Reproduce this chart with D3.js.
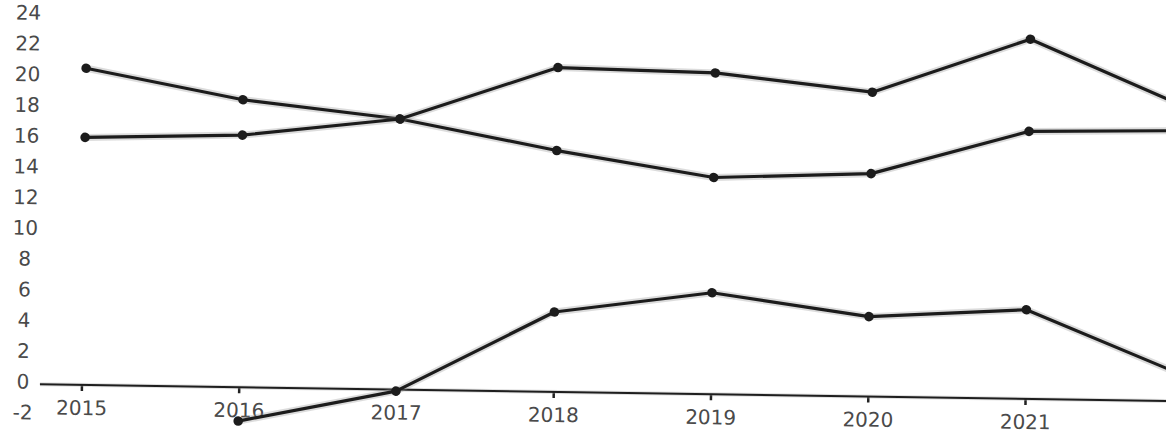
<!DOCTYPE html>
<html>
<head>
<meta charset="utf-8">
<script src="https://cdn.jsdelivr.net/npm/d3@7/dist/d3.min.js"></script>
<style>
  html, body { margin: 0; padding: 0; background: #fff; }
  svg { display: block; overflow: hidden; }
  text { font-family: "DejaVu Sans", sans-serif; }
</style>
</head>
<body>
<svg id="chart" width="1166" height="440"></svg>
<script>
// Categories and series
const years = [2015, 2016, 2017, 2018, 2019, 2020, 2021, 2022];
const seriesA = [20.6, 18.7, 17.6, 15.7, 14.1, 14.5, 17.4, 17.6];
const seriesB = [16.1, 16.4, 17.6, 21.1, 20.9, 19.8, 23.4, 19.1];
const seriesC = [null, -2.2, -0.1, 5.2, 6.6, 5.2, 5.8, 1.7];

// Axis ticks
const yTicks = [-2, 0, 2, 4, 6, 8, 10, 12, 14, 16, 18, 20, 22, 24];
const xTickYears = [2015, 2016, 2017, 2018, 2019, 2020, 2021];

const svg = d3.select("#chart");

// whole drawing sits with a slight tilt
const g = svg.append("g").attr("transform", "rotate(0.85, 20, 381)");

const x = d3.scalePoint().domain(years).range([81.5, 1182.5]);
const y = d3.scaleLinear().domain([-2, 24]).range([414.75, 15]);

// y tick labels (no axis line)
const yAxis = g.append("g")
  .attr("transform", "translate(23,0)")
  .call(d3.axisLeft(y).tickValues(yTicks).tickSize(0).tickFormat(d => String(d)));
yAxis.select(".domain").remove();
yAxis.selectAll("text")
  .attr("x", 0)
  .attr("y", -3)
  .attr("dy", "0.35em")
  .attr("text-anchor", "middle")
  .attr("fill", "#4a4a4a")
  .style("font-size", "20px")
  .style("font-family", "'DejaVu Sans', sans-serif");

// x axis along zero
const xAxis = g.append("g")
  .attr("transform", `translate(0,${y(0)})`)
  .call(d3.axisBottom(x).tickValues(xTickYears).tickSize(6).tickFormat(d => String(d)));
xAxis.select(".domain").remove();
xAxis.selectAll(".tick line").attr("stroke", "#222").attr("stroke-width", 2.5);
xAxis.selectAll("text")
  .attr("y", 23)
  .attr("dy", "0.35em")
  .attr("fill", "#4a4a4a")
  .style("font-size", "20px")
  .style("font-family", "'DejaVu Sans', sans-serif");

g.append("line")
  .attr("x1", 40).attr("x2", 1220)
  .attr("y1", y(0)).attr("y2", y(0))
  .attr("stroke", "#aaa").attr("stroke-width", 4).attr("opacity", 0.35);
g.append("line")
  .attr("x1", 40).attr("x2", 1220)
  .attr("y1", y(0)).attr("y2", y(0))
  .attr("stroke", "#1e1e1e").attr("stroke-width", 2);

// series lines with markers
const allSeries = [seriesA, seriesB, seriesC];
const line = d3.line()
  .defined(d => d.v !== null)
  .x(d => x(d.year))
  .y(d => y(d.v));

allSeries.forEach(vals => {
  const pts = years.map((yr, i) => ({ year: yr, v: vals[i] }));
  g.append("path")
    .datum(pts)
    .attr("fill", "none")
    .attr("stroke", "#8c8c8c")
    .attr("stroke-width", 7)
    .attr("stroke-linejoin", "round")
    .attr("opacity", 0.3)
    .attr("d", line);
  g.append("path")
    .datum(pts)
    .attr("fill", "none")
    .attr("stroke", "#1c1c1c")
    .attr("stroke-width", 3.2)
    .attr("stroke-linejoin", "round")
    .attr("d", line);
  g.selectAll(null)
    .data(pts.filter(d => d.v !== null))
    .enter().append("circle")
    .attr("cx", d => x(d.year))
    .attr("cy", d => y(d.v))
    .attr("r", 4.8)
    .attr("fill", "#1c1c1c");
});
</script>
</body>
</html>
